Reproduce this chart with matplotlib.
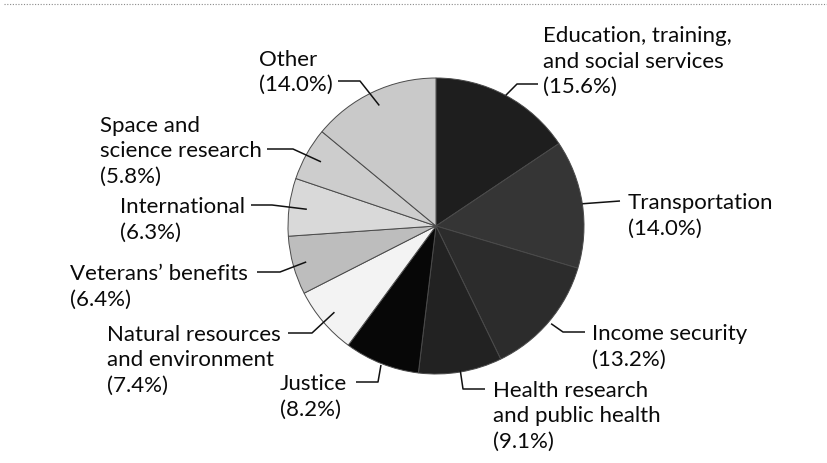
"""
Pie chart of federal R&D-style outlays by function, with elbow leader labels
"""

import numpy as np
import matplotlib
matplotlib.use('Agg')
from matplotlib import pyplot as plt

# slices, clockwise from 12 o'clock
names = [
    ['Education, training,', 'and social services'],
    ['Transportation'],
    ['Income security'],
    ['Health research', 'and public health'],
    ['Justice'],
    ['Natural resources', 'and environment'],
    ['Veterans\u2019 benefits'],
    ['International'],
    ['Space and', 'science research'],
    ['Other'],
]
shares = [15.6, 14.0, 13.2, 9.1, 8.2, 7.4, 6.4, 6.3, 5.8, 14.0]
greys = ['#1e1e1e', '#353535', '#2c2c2c', '#222222', '#070707',
         '#f3f3f3', '#bdbdbd', '#d9d9d9', '#cdcdcd', '#c9c9c9']

# label layout in pixels: text left x, first line centre y,
# leader start, elbow, and how far into the wedge the leader reaches
text_xy = [(543, 35), (628, 202), (592, 333), (493, 390), (280, 383),
           (107, 334), (70, 273), (120, 206), (100, 125), (259, 58)]
lead_from = [(538, 85), (620, 202), (585, 333), (485, 390), (356, 383),
             (288, 334), (257, 273), (251, 206), (267, 150), (338, 82)]
elbows = [(517, 85), None, (563, 333), (463, 390), (378, 383),
          (312, 334), (280, 273), (272, 206), (293, 150), (360, 82)]
reach = [1.0, 1.0, 1.02, 0.99, 1.01, 0.9, 0.91, 0.88, 0.89, 0.9]

cx, cy, rad = 436, 227, 148
line_gap = 25
font = 'Lato'
fsize = 16

fig = plt.figure(figsize=(8.28, 4.64), dpi=100)
ax = fig.add_axes([0, 0, 1, 1])

# y axis runs downward, so counterclock=True with startangle=-90
# sweeps clockwise from the top on screen
ax.pie(shares, colors=greys, center=(cx, cy), radius=rad,
       startangle=-90, counterclock=True,
       wedgeprops=dict(edgecolor='#4a4a4a', linewidth=0.7))
ax.set_xlim(0, 828)
ax.set_ylim(464, 0)
ax.set_aspect('auto')
ax.axis('off')

# mid angle of each wedge, clockwise from top
cum = np.cumsum(shares)
mids = np.deg2rad((cum - np.array(shares) / 2) / 100 * 360)

for i, lines in enumerate(names):
    tx, ty = text_xy[i]
    lines = lines + ['(%.1f%%)' % shares[i]]
    for k, s in enumerate(lines):
        ax.text(tx, ty + k * line_gap + 7.5, s, family=font, fontsize=fsize,
                ha='left', va='baseline', color='#0a0a0a')

    ex = cx + reach[i] * rad * np.sin(mids[i])
    ey = cy - reach[i] * rad * np.cos(mids[i])
    pts = [lead_from[i]]
    if elbows[i] is not None:
        pts.append(elbows[i])
    pts.append((ex, ey))
    xs, ys = zip(*pts)
    ax.plot(xs, ys, color='#111111', lw=1.1, solid_capstyle='butt')

# faint dotted rule along the top edge
ax.plot([4, 828], [5, 5], color='#8a8a8a', lw=0.8, ls=(0, (1, 1.5)))

fig.savefig('out.png', dpi=100)
